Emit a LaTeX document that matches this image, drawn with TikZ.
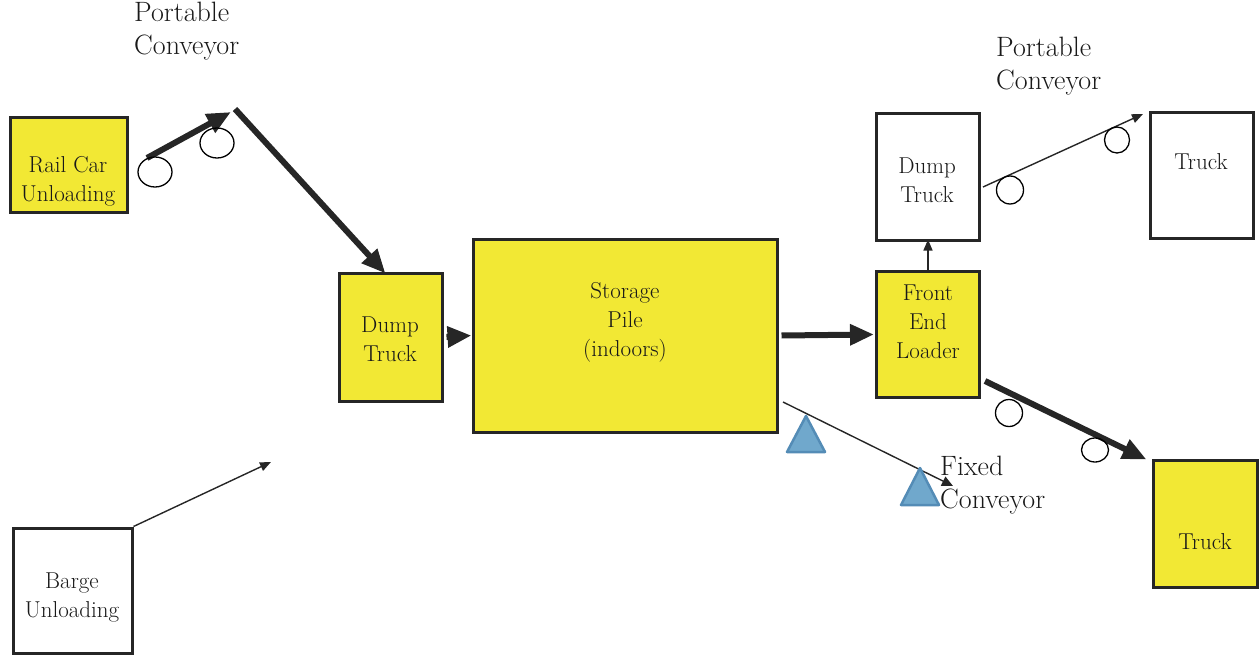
\documentclass[tikz,border=0pt]{standalone}
\usetikzlibrary{arrows.meta,shapes.geometric}
\definecolor{boxyellow}{RGB}{242,232,52}
\definecolor{trifill}{RGB}{112,168,204}
\definecolor{triedge}{RGB}{84,140,182}
\definecolor{ink}{RGB}{38,38,38}
\definecolor{print}{RGB}{25,25,25}

\begin{document}
\begin{tikzpicture}[x=1pt,y=-1pt,
  stage/.style={draw=ink, line width=3pt, inner sep=0pt, fill=#1},
  stage/.default=white,
  stagetext/.style={font=\rmfamily\fontsize{23}{29}\selectfont, align=center, text=print, inner sep=0pt},
  tagtext/.style={font=\rmfamily\fontsize{28}{33}\selectfont, align=left, text=print, inner sep=0pt, anchor=west},
  heavy/.style={draw=ink, line width=6pt, -{Triangle[length=24pt,width=20pt]}},
  light/.style={draw=ink, line width=1.4pt, -{Triangle[length=11pt,width=9pt]}},
  roller/.style={draw=black, line width=1.3pt},
  support/.style={fill=trifill, draw=triedge, line width=2.5pt, line join=round}]

\useasboundingbox (0,0) rectangle (1260,655);

% ---- stage boxes ----
\node[stage=boxyellow, minimum width=117pt, minimum height=94pt] (rail) at (68.5,165) {};
\node[stage, minimum width=119pt, minimum height=125pt] (barge) at (72.5,590.5) {};
\node[stage=boxyellow, minimum width=103pt, minimum height=128pt] (dump1) at (390.5,337) {};
\node[stage=boxyellow, minimum width=304pt, minimum height=193pt] (pile) at (625,335.5) {};
\node[stage=boxyellow, minimum width=103pt, minimum height=126pt] (loader) at (928,334.5) {};
\node[stage, minimum width=103pt, minimum height=126pt] (dump2) at (928,177) {};
\node[stage, minimum width=103pt, minimum height=125pt] (truck1) at (1201.5,175.5) {};
\node[stage=boxyellow, minimum width=104pt, minimum height=127pt] (truck2) at (1205,523.5) {};

% ---- box texts ----
\node[stagetext] (rail-t) at (68,181) {Rail Car\\Unloading};
\node[stagetext] (barge-t) at (72,597) {Barge\\Unloading};
\node[stagetext] (dump1-t) at (390,339) {Dump\\Truck};
\node[stagetext] (pile-t) at (625,322) {Storage\\Pile\\(indoors)};
\node[stagetext] (loader-t) at (928,322) {Front\\End\\Loader};
\node[stagetext] (dump2-t) at (927,180) {Dump\\Truck};
\node[stagetext] (truck1-t) at (1201,162) {Truck};
\node[stagetext] (truck2-t) at (1205,542) {Truck};

% ---- conveyor labels ----
\node[tagtext] (pc1) at (134,31) {Portable\\Conveyor};
\node[tagtext] (pc2) at (996,66) {Portable\\Conveyor};
\node[tagtext] (fc) at (940,485) {Fixed\\Conveyor};

% ---- free ends of the conveyors ----
\coordinate (c1a) at (147,158);
\coordinate (c1b) at (231,112);
\coordinate (c1c) at (235,109);
\coordinate (c2a) at (983,187);
\coordinate (c2b) at (1143,114);
\coordinate (c3a) at (783,402);
\coordinate (c3b) at (953,486);
\coordinate (c4a) at (985,381);
\coordinate (bgend) at (271,462);

% ---- flows ----
\draw[heavy] (c1a) -- (c1b);
\draw[heavy] (c1c) -- ([xshift=-5pt,yshift=-2pt]dump1.north);
\draw[heavy] ([xshift=3pt]dump1.east) -- (pile.west);
\draw[heavy] ([xshift=3pt]pile.east) -- ([xshift=-1pt]loader.west);
\draw[light] (loader.north) -- ([yshift=2pt]dump2.south);
\draw[light] (c2a) -- (c2b);
\draw[heavy] (c4a) -- ([xshift=-5pt,yshift=-1pt]truck2.north west);
\draw[line width=1.4pt, draw=ink, -{Triangle[length=11pt,width=10pt]}] (c3a) -- (c3b);
\draw[light] (barge.north east) -- (bgend);

% ---- rollers of the portable conveyors ----
\node[roller, ellipse, minimum width=34pt, minimum height=30pt, inner sep=0pt] (r1) at (155,172) {};
\node[roller, ellipse, minimum width=34pt, minimum height=30pt, inner sep=0pt] (r2) at (217,143) {};
\node[roller, ellipse, minimum width=27pt, minimum height=28pt, inner sep=0pt] (r3) at (1010,190) {};
\node[roller, ellipse, minimum width=25pt, minimum height=26pt, inner sep=0pt] (r4) at (1117,140) {};
\node[roller, ellipse, minimum width=27pt, minimum height=27pt, inner sep=0pt] (r5) at (1009,413) {};
\node[roller, ellipse, minimum width=27pt, minimum height=24pt, inner sep=0pt] (r6) at (1095,450) {};

% ---- supports of the fixed conveyor ----
\draw[support] (806,416) -- (787,452) -- (825,452) -- cycle;
\draw[support] (920,468) -- (901,505) -- (939,505) -- cycle;

\end{tikzpicture}
\end{document}
